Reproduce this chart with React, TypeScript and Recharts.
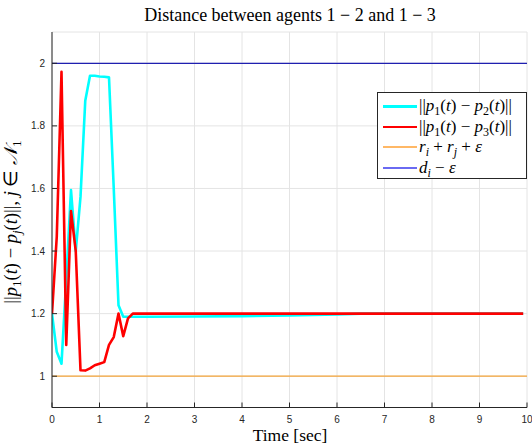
import React from 'react';
import { LineChart, Line, XAxis, YAxis, CartesianGrid, Legend } from 'recharts';

// ---- data ----
const time = [0, 0.1, 0.2, 0.3, 0.4, 0.5, 0.6, 0.7, 0.8, 0.9, 1.0, 1.1, 1.2, 1.3, 1.4, 1.5, 1.6, 1.7, 1.8, 2, 3, 4, 5, 6, 6.5, 7, 8, 9, 9.92];
const dist12 = [1.2, 1.078, 1.04, 1.31, 1.595, 1.4, 1.573, 1.88, 1.96, 1.96, 1.958, 1.957, 1.955, 1.6, 1.227, 1.19, 1.19, 1.19, 1.19, 1.19, 1.191, 1.192, 1.194, 1.197, 1.2, 1.2, 1.2, 1.2, 1.2];
const dist13 = [1.2, 1.445, 1.973, 1.1, 1.528, 1.4, 1.019, 1.018, 1.025, 1.035, 1.04, 1.045, 1.1, 1.125, 1.2, 1.128, 1.185, 1.2, 1.2, 1.2, 1.2, 1.2, 1.2, 1.2, 1.2, 1.2, 1.2, 1.2, 1.2];
const boundTime = [0, 10];
const safetyBound = [1, 1]; // r_i + r_j + eps
const rangeBound = [2, 2]; // d_i - eps
const xTicks = [0, 1, 2, 3, 4, 5, 6, 7, 8, 9, 10];
const yTicks = [1, 1.2, 1.4, 1.6, 1.8, 2];

const series12 = time.map((t, i) => ({ t, v: dist12[i] }));
const series13 = time.map((t, i) => ({ t, v: dist13[i] }));
const seriesSafety = boundTime.map((t, i) => ({ t, v: safetyBound[i] }));
const seriesRange = boundTime.map((t, i) => ({ t, v: rangeBound[i] }));

const C_CYAN = '#00FFFF';
const C_RED = '#FF0000';
const C_ORANGE = '#F5A53A';
const C_BLUE = '#1F1FB0';
const AX = '#262626';
const SERIF = '"Liberation Serif", "Times New Roman", serif';
const SANS = '"Liberation Sans", Arial, Helvetica, sans-serif';

function XLabel(_: any) {
  return (
    <text x={290} y={441} textAnchor="middle" fontFamily={SERIF} fontSize={17.5} fill="#000">
      Time [sec]
    </text>
  );
}

function YLabelAndTitle(_: any) {
  return (
    <g>
      <text x={290} y={21} textAnchor="middle" fontFamily={SERIF} fontSize={18} fill="#000">
        Distance between agents 1 − 2 and 1 − 3
      </text>
      <text transform="translate(17,222) rotate(-90)" textAnchor="middle" fontFamily={SERIF} fontSize={18.5} fill="#000">
        <tspan>||</tspan>
        <tspan fontStyle="italic">p</tspan>
        <tspan fontSize={13} dy={4}>1</tspan>
        <tspan dy={-4}>(</tspan>
        <tspan fontStyle="italic">t</tspan>
        <tspan>) − </tspan>
        <tspan fontStyle="italic">p</tspan>
        <tspan fontSize={13} fontStyle="italic" dy={4}>j</tspan>
        <tspan dy={-4}>(</tspan>
        <tspan fontStyle="italic">t</tspan>
        <tspan>)||, </tspan>
        <tspan fontStyle="italic">j</tspan>
        <tspan> ∈ </tspan>
        <tspan fontStyle="italic">𝒩</tspan>
        <tspan fontSize={13} dy={4}>1</tspan>
      </text>
    </g>
  );
}

const subStyle: React.CSSProperties = { fontSize: 12, verticalAlign: '-4px', lineHeight: 0 };
const subI: React.CSSProperties = { ...subStyle, fontStyle: 'italic' };

const legendItems = [
  {
    color: C_CYAN, w: 2.5,
    label: (<span>||<i>p</i><span style={subStyle}>1</span>(<i>t</i>) − <i>p</i><span style={subStyle}>2</span>(<i>t</i>)||</span>),
  },
  {
    color: C_RED, w: 2.5,
    label: (<span>||<i>p</i><span style={subStyle}>1</span>(<i>t</i>) − <i>p</i><span style={subStyle}>3</span>(<i>t</i>)||</span>),
  },
  {
    color: '#FFB866', w: 2,
    label: (<span><i>r</i><span style={subI}>i</span> + <i>r</i><span style={subI}>j</span> + <i>ε</i></span>),
  },
  {
    color: '#6A6AF2', w: 2,
    label: (<span><i>d</i><span style={subI}>i</span> − <i>ε</i></span>),
  },
];

function LegendBox() {
  return (
    <div
      style={{
        boxSizing: 'border-box', width: 150, height: 87, border: `1px solid ${AX}`, background: '#fff',
        paddingTop: 3, fontFamily: SERIF, fontSize: 17, color: '#000',
      }}
    >
      {legendItems.map((it, i) => (
        <div key={i} style={{ display: 'flex', alignItems: 'center', height: 20.5, whiteSpace: 'nowrap' }}>
          <div style={{ width: 34, height: it.w, background: it.color, marginLeft: 5, marginRight: 2 }} />
          {it.label}
        </div>
      ))}
    </div>
  );
}

export default function App() {
  return (
    <div style={{ position: 'absolute', left: 0, top: 0, width: 532, height: 444, background: '#fff' }}>
      <LineChart width={532} height={444} margin={{ top: 32, right: 5, bottom: 0, left: 0 }}>
        <CartesianGrid stroke="#E4E4E4" strokeWidth={1} />
        <XAxis
          dataKey="t" type="number" domain={[0, 10]} ticks={xTicks} interval={0} height={36.5}
          allowDataOverflow
          axisLine={{ stroke: AX }} tickLine={{ stroke: AX }} tickSize={-5} tickMargin={13}
          tick={{ fontFamily: SANS, fontSize: 10, fill: AX }}
          label={<XLabel />}
        />
        <XAxis
          xAxisId="top" orientation="top" dataKey="t" type="number" domain={[0, 10]} ticks={xTicks}
          interval={0} height={0} allowDataOverflow
          axisLine={{ stroke: AX }} tickLine={{ stroke: AX }} tickSize={-5} tick={false}
        />
        <YAxis
          type="number" domain={[0.9, 2.1]} ticks={yTicks} interval={0} width={52} allowDataOverflow
          axisLine={{ stroke: AX }} tickLine={{ stroke: AX }} tickSize={-5} tickMargin={12}
          tick={{ fontFamily: SANS, fontSize: 10, fill: AX }}
          label={<YLabelAndTitle />}
        />
        <YAxis
          yAxisId="right" orientation="right" type="number" domain={[0.9, 2.1]} ticks={yTicks}
          interval={0} width={0} allowDataOverflow
          axisLine={{ stroke: AX }} tickLine={{ stroke: AX }} tickSize={-5} tick={false}
        />
        <Line data={series12} dataKey="v" stroke={C_CYAN} strokeWidth={2.6} dot={false} isAnimationActive={false} strokeLinejoin="round" />
        <Line data={series13} dataKey="v" stroke={C_RED} strokeWidth={2.6} dot={false} isAnimationActive={false} strokeLinejoin="round" />
        <Line data={seriesSafety} dataKey="v" stroke={C_ORANGE} strokeWidth={1.3} dot={false} isAnimationActive={false} />
        <Line data={seriesRange} dataKey="v" stroke={C_BLUE} strokeWidth={1.2} dot={false} isAnimationActive={false} />
        <Legend
          layout="horizontal" verticalAlign="middle" align="center"
          wrapperStyle={{ left: 377, top: 92, width: 150, height: 87 }}
          content={() => <LegendBox />}
        />
      </LineChart>
    </div>
  );
}
